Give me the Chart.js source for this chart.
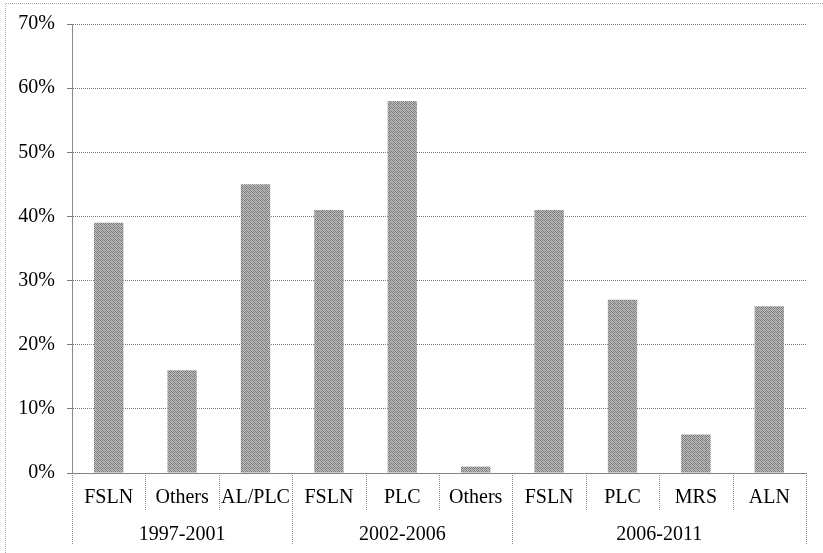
<!DOCTYPE html>
<html>
<head>
<meta charset="utf-8">
<script src="https://cdn.jsdelivr.net/npm/chart.js@4"></script>
<style>
html,body{margin:0;padding:0;background:#fff;}
#c{display:block;}
</style>
</head>
<body>
<canvas id="c" width="823" height="553"></canvas>
<script>
const categories = ['FSLN','Others','AL/PLC','FSLN','PLC','Others','FSLN','PLC','MRS','ALN'];
const groupLabels = ['1997-2001','2002-2006','2006-2011'];
const groupSizes = [3,3,4];
const values = [39,16,45,41,58,1,41,27,6,26];
const yTicks = [0,10,20,30,40,50,60,70];

const FONT = '"Liberation Serif","Times New Roman",serif';

function makePattern(){
  const p = document.createElement('canvas');
  p.width = 4; p.height = 4;
  const g = p.getContext('2d');
  g.fillStyle = '#bcbcbc'; g.fillRect(0,0,4,4);
  g.fillStyle = '#7a7a7a';
  [[0,0],[2,0],[1,1],[3,1],[0,2],[2,2],[1,3],[3,3]].forEach(([a,b]) => g.fillRect(a,b,1,1));
  g.fillStyle = '#9a9a9a';
  g.fillRect(3,1,1,1); g.fillRect(0,2,1,1);
  return document.getElementById('c').getContext('2d').createPattern(p,'repeat');
}

const decor = {
  id: 'decor',
  beforeDraw(chart){
    const ctx = chart.ctx;
    ctx.save();
    ctx.strokeStyle = '#aaaaaa';
    ctx.lineWidth = 1;
    ctx.setLineDash([1,1]);
    ctx.beginPath();
    ctx.moveTo(5.5, 553); ctx.lineTo(5.5, 3.5); ctx.lineTo(823, 3.5);
    ctx.stroke();
    ctx.restore();
  },
  afterDraw(chart){
    const ctx = chart.ctx;
    const x = chart.scales.x;
    const top = chart.chartArea.bottom;
    const half = (x.getPixelForValue(1) - x.getPixelForValue(0)) / 2;
    ctx.save();
    ctx.strokeStyle = '#8a8a8a';
    ctx.lineWidth = 1;
    ctx.setLineDash([1,1]);
    ctx.beginPath();
    ctx.moveTo(chart.chartArea.left, top + 0.5);
    ctx.lineTo(chart.chartArea.right, top + 0.5);
    ctx.stroke();
    const groupEdges = new Set([0]);
    let acc = 0;
    groupSizes.forEach(s => { acc += s; groupEdges.add(acc); });
    for (let i = 0; i <= categories.length; i++) {
      const px = Math.round(x.getPixelForValue(i) - half) + 0.5;
      const bottom = groupEdges.has(i) ? top + 72 : top + 37;
      ctx.beginPath();
      ctx.moveTo(px, top);
      ctx.lineTo(px, bottom);
      ctx.stroke();
    }
    ctx.setLineDash([]);
    ctx.fillStyle = '#000';
    ctx.font = '20px ' + FONT;
    ctx.textAlign = 'center';
    ctx.textBaseline = 'middle';
    let start = 0;
    groupLabels.forEach((g, k) => {
      const end = start + groupSizes[k] - 1;
      const cx = (x.getPixelForValue(start) + x.getPixelForValue(end)) / 2;
      ctx.fillText(g, cx, top + 62);
      start += groupSizes[k];
    });
    ctx.restore();
  }
};

new Chart(document.getElementById('c'), {
  type: 'bar',
  data: {
    labels: categories,
    datasets: [{
      data: values,
      backgroundColor: makePattern(),
      borderWidth: 0,
      barPercentage: 0.4,
      categoryPercentage: 1.0
    }]
  },
  options: {
    responsive: false,
    devicePixelRatio: 1,
    animation: false,
    layout: { padding: { left: 0, right: 17, top: 24, bottom: 0 } },
    plugins: { legend: { display: false }, tooltip: { enabled: false } },
    scales: {
      x: {
        grid: { display: false },
        border: { display: false },
        ticks: { color: '#000', font: { family: FONT, size: 20 }, padding: 5, maxRotation: 0, autoSkip: false },
        afterFit(s){ s.height = 80; }
      },
      y: {
        min: 0, max: 70,
        afterBuildTicks(s){ s.ticks = yTicks.map(v => ({ value: v })); },
        grid: { color: '#7a7a7a', tickLength: 5, tickColor: '#7a7a7a', lineWidth: 1 },
        border: { color: '#8a8a8a', dash: [1,1] },
        ticks: { color: '#000', font: { family: FONT, size: 20 }, padding: 12, callback: v => v + '%' },
        afterFit(s){ s.width = 72; }
      }
    }
  },
  plugins: [decor]
});
</script>
</body>
</html>
